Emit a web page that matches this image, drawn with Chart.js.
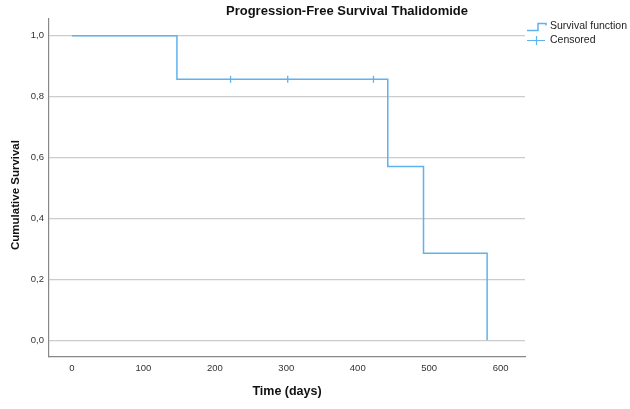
<!DOCTYPE html>
<html>
<head>
<meta charset="utf-8">
<script src="https://cdn.jsdelivr.net/npm/chart.js@4"></script>
<style>
  body { margin: 0; background: #fff; }
  canvas { display: block; }
</style>
</head>
<body>
<canvas id="kmChart" width="630" height="409"></canvas>
<script>
// Kaplan-Meier estimate
const eventTimes = [0, 147, 442, 492, 581];
const survival = [1.0, 0.857, 0.571, 0.286, 0.0];
const censoredTimes = [222, 302, 422];
const censoredSurvival = [0.857, 0.857, 0.857];

const xTicks = [0, 100, 200, 300, 400, 500, 600];
const yTicks = [0.0, 0.2, 0.4, 0.6, 0.8, 1.0];

const chartTitle = 'Progression-Free Survival Thalidomide';
const xTitle = 'Time (days)';
const yTitle = 'Cumulative Survival';
const legendLabels = ['Survival function', 'Censored'];

const lineColor = '#5eb2ee';
const fontFamily = '"Liberation Sans", Arial, sans-serif';

// titles + legend drawn by hand so they sit where SPSS put them
const annotations = {
  id: 'annotations',
  afterDraw(chart) {
    const ctx = chart.ctx;
    const area = chart.chartArea;
    ctx.save();
    ctx.fillStyle = '#111';
    ctx.textBaseline = 'middle';
    ctx.textAlign = 'center';
    ctx.font = 'bold 13px ' + fontFamily;
    ctx.fillText(chartTitle, 347, 11);
    ctx.font = 'bold 12.5px ' + fontFamily;
    ctx.fillText(xTitle, (area.left + area.right) / 2, 392);

    ctx.save();
    ctx.translate(15.5, 195);
    ctx.rotate(-Math.PI / 2);
    ctx.font = 'bold 11.5px ' + fontFamily;
    ctx.fillText(yTitle, 0, 0);
    ctx.restore();

    // legend icons
    ctx.strokeStyle = lineColor;
    ctx.lineWidth = 1.5;
    ctx.beginPath();
    ctx.moveTo(527, 30.5);
    ctx.lineTo(538, 30.5);
    ctx.lineTo(538, 23.5);
    ctx.lineTo(546, 23.5);
    ctx.lineTo(546, 25.5);
    ctx.stroke();
    ctx.lineWidth = 1.2;
    ctx.beginPath();
    ctx.moveTo(527, 40.5);
    ctx.lineTo(545, 40.5);
    ctx.moveTo(536.5, 36);
    ctx.lineTo(536.5, 45);
    ctx.stroke();

    ctx.fillStyle = '#222';
    ctx.textAlign = 'left';
    ctx.font = '10.5px ' + fontFamily;
    ctx.fillText(legendLabels[0], 550, 26);
    ctx.fillText(legendLabels[1], 550, 40.5);
    ctx.restore();
  }
};

const ctx = document.getElementById('kmChart').getContext('2d');
const kmChart = new Chart(ctx, {
  type: 'scatter',
  data: {
    datasets: [{
      label: legendLabels[0],
      type: 'line',
      data: eventTimes.map((t, i) => ({ x: t, y: survival[i] })),
      stepped: true,
      borderColor: lineColor,
      borderWidth: 1.5,
      pointRadius: 0,
      fill: false
    }, {
      label: legendLabels[1],
      data: censoredTimes.map((t, i) => ({ x: t, y: censoredSurvival[i] })),
      pointStyle: 'line',
      rotation: 90,
      pointRadius: 3.5,
      pointBorderWidth: 1.3,
      borderColor: lineColor,
      backgroundColor: lineColor
    }]
  },
  options: {
    responsive: false,
    animation: false,
    devicePixelRatio: 1,
    layout: { padding: { top: 19, right: 105, left: 0, bottom: 0 } },
    plugins: {
      legend: { display: false },
      title: { display: false },
      tooltip: { enabled: false }
    },
    scales: {
      x: {
        type: 'linear',
        min: -32,
        max: 634,
        afterBuildTicks: s => { s.ticks = xTicks.map(v => ({ value: v })); },
        afterFit: s => { s.height = 52; },
        grid: { display: false, drawTicks: false },
        border: { display: true, color: '#888', width: 1.2 },
        ticks: {
          padding: 6,
          color: '#333',
          font: { family: fontFamily, size: 9.5 },
          callback: v => String(v)
        }
      },
      y: {
        min: -0.055,
        max: 1.055,
        afterBuildTicks: s => { s.ticks = yTicks.map(v => ({ value: v })); },
        afterFit: s => { s.width = 49; },
        grid: { color: '#cccccc', lineWidth: 1.2, drawTicks: false },
        border: { display: true, color: '#888', width: 1.2 },
        ticks: {
          padding: 5,
          color: '#333',
          font: { family: fontFamily, size: 9.5 },
          callback: v => v.toFixed(1).replace('.', ',')
        }
      }
    }
  },
  plugins: [annotations]
});
</script>
</body>
</html>
